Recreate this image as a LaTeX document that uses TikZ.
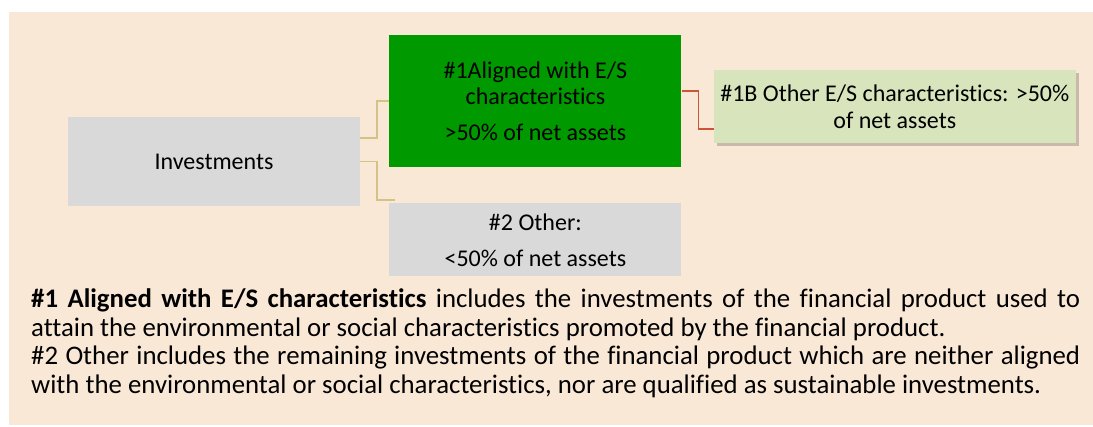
\documentclass[tikz,border=0pt]{standalone}
\usepackage{fontspec}
\setmainfont[Ligatures=NoCommon]{Carlito}
\usetikzlibrary{positioning, calc, shadows}
\definecolor{bgbeige}{RGB}{250,232,215}
\definecolor{boxgrey}{RGB}{217,217,217}
\definecolor{esgreen}{RGB}{0,153,0}
\definecolor{palegreen}{RGB}{216,228,188}
\definecolor{linktan}{RGB}{212,195,135}
\definecolor{linkred}{RGB}{205,85,55}

\begin{document}
\begin{tikzpicture}[x=1pt, y=1pt, node distance=30pt]
        \tikzstyle{box}=[rectangle, inner sep=0, align=center, font=\fontsize{24}{26}\selectfont];
        \tikzstyle{greybox}=[box, fill=boxgrey, minimum width=292pt];
        \tikzstyle{link}=[line width=1.5pt, draw=linktan];
        \useasboundingbox (0,0) rectangle (1093,427);
        \fill[bgbeige] (9,2) rectangle (1093,415);
        \node[greybox, minimum height=89pt] (inv) at (214,265.5) {Investments};
        \node[box, fill=esgreen, minimum width=292pt, minimum height=132pt, right=29pt of inv, yshift=60.5pt] (aligned) {\#1Aligned with E/S\\characteristics\\[9.6pt]>50\% of net assets};
        \node[greybox, minimum height=73pt, below=36pt of aligned] (other) {\#2 Other:\\[10pt]<50\% of net assets};
        \node[box, fill=palegreen, minimum width=362pt, minimum height=73pt, right=32pt of aligned, yshift=-5.5pt, font=\fontsize{24}{27}\selectfont, drop shadow={shadow xshift=3pt, shadow yshift=-3pt, fill=black, opacity=0.2}] (oth1b) {\#1B Other E/S characteristics: >50\%\\of net assets};
        \node[anchor=base west, text width=1049pt, align=justify, inner sep=0, font=\fontsize{26.8}{28.5}\selectfont] (note) at (31,119) {\textbf{\#1 Aligned with E/S characteristics} includes the investments of the financial product used to\linebreak attain the environmental or social characteristics promoted by the financial product.\par \#2 Other includes the remaining investments of the financial product which are neither aligned\linebreak with the environmental or social characteristics, nor are qualified as sustainable investments.};

        \draw[link] ($(inv.east)+(0,23.5)$) -| ($(aligned.west)+(-12,0)$) -- (aligned.west);
        \draw[link] (inv.east) -| ($(other.north west)+(-12,3)$) -- ($(other.north west)+(6,3)$);
        \draw[link, draw=linkred] ($(aligned.east)+(0,10)$) -| ($(oth1b.west)+(-15,-22.5)$) -- ($(oth1b.west)+(0,-22.5)$);
\end{tikzpicture}
\end{document}
